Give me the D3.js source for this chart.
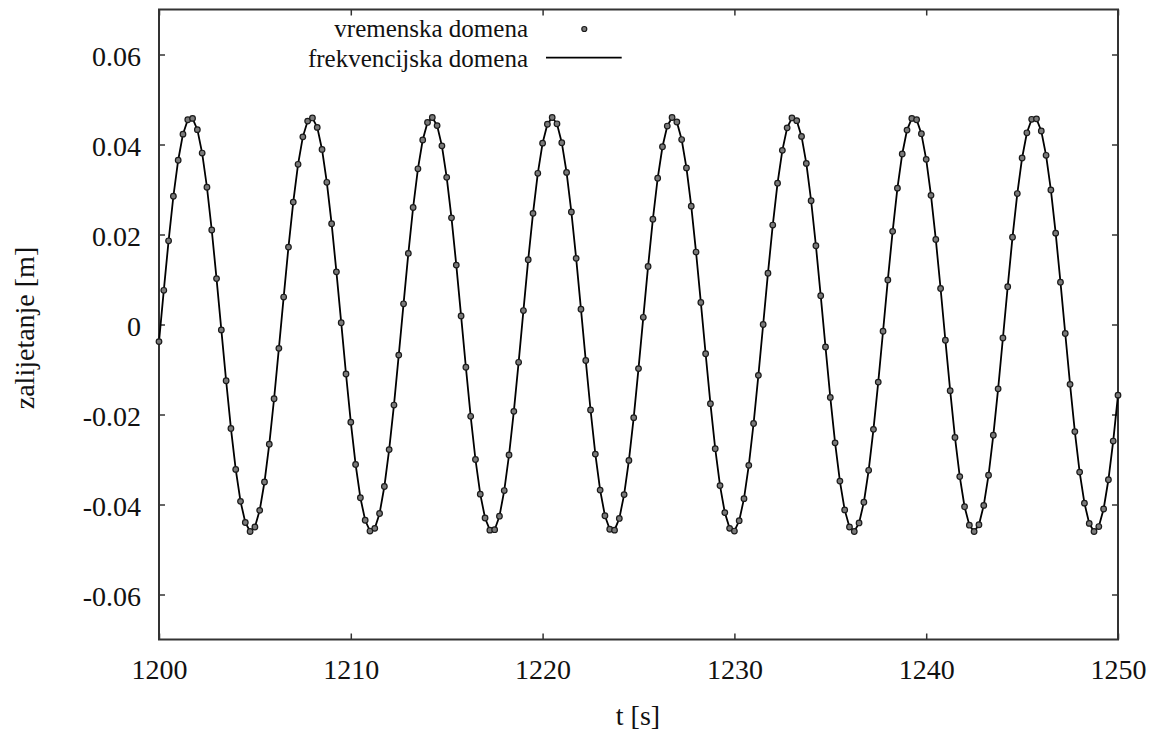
<!DOCTYPE html>
<html>
<head>
<meta charset="utf-8">
<script src="https://cdn.jsdelivr.net/npm/d3@7"></script>
</head>
<body style="margin:0">
<svg id="chart" width="1161" height="731"></svg>
<script>
// ---- data ----
const tStart = 1200;
const tStep = 0.25;
const timeDomain = [
  -0.0038, 0.0076, 0.0186, 0.0285, 0.0365, 0.0423, 0.0455, 0.0458, 0.0433, 0.0381, 0.0305, 0.0210, 0.0102, -0.0012, -0.0125, -0.0231, -0.0322, -0.0393, -0.0440, -0.0460, -0.0450, -0.0413, -0.0350, -0.0266, -0.0165,
  -0.0053, 0.0061, 0.0172, 0.0272, 0.0356, 0.0417, 0.0452, 0.0459, 0.0438, 0.0389, 0.0316, 0.0224, 0.0117, 0.0004, -0.0110, -0.0217, -0.0311, -0.0385, -0.0435, -0.0459, -0.0453, -0.0420, -0.0360, -0.0278, -0.0179,
  -0.0068, 0.0046, 0.0158, 0.0260, 0.0346, 0.0410, 0.0449, 0.0460, 0.0442, 0.0397, 0.0327, 0.0237, 0.0132, 0.0019, -0.0095, -0.0204, -0.0300, -0.0377, -0.0430, -0.0457, -0.0456, -0.0426, -0.0369, -0.0290, -0.0193,
  -0.0084, 0.0031, 0.0144, 0.0247, 0.0336, 0.0403, 0.0445, 0.0460, 0.0446, 0.0404, 0.0338, 0.0250, 0.0147, 0.0034, -0.0080, -0.0190, -0.0288, -0.0368, -0.0425, -0.0455, -0.0457, -0.0431, -0.0378, -0.0302, -0.0207,
  -0.0098, 0.0016, 0.0129, 0.0234, 0.0325, 0.0395, 0.0441, 0.0460, 0.0450, 0.0411, 0.0348, 0.0263, 0.0161, 0.0049, -0.0065, -0.0176, -0.0276, -0.0358, -0.0418, -0.0453, -0.0459, -0.0436, -0.0387, -0.0313, -0.0220,
  -0.0113, 0.0000, 0.0114, 0.0221, 0.0314, 0.0387, 0.0437, 0.0459, 0.0453, 0.0418, 0.0358, 0.0275, 0.0175, 0.0064, -0.0050, -0.0162, -0.0263, -0.0348, -0.0412, -0.0450, -0.0460, -0.0441, -0.0395, -0.0324, -0.0233,
  -0.0128, -0.0015, 0.0099, 0.0207, 0.0303, 0.0379, 0.0432, 0.0458, 0.0455, 0.0424, 0.0367, 0.0287, 0.0189, 0.0080, -0.0035, -0.0147, -0.0251, -0.0338, -0.0405, -0.0446, -0.0460, -0.0445, -0.0402, -0.0335, -0.0246,
  -0.0143, -0.0030, 0.0084, 0.0194, 0.0291, 0.0370, 0.0426, 0.0456, 0.0457, 0.0430, 0.0376, 0.0299, 0.0203, 0.0094, -0.0020, -0.0133, -0.0238, -0.0328, -0.0397, -0.0442, -0.0460, -0.0449, -0.0410, -0.0345, -0.0259,
  -0.0157
];
// the frequency-domain solution coincides with the time-domain samples
const frequencyDomain = timeDomain.slice();

const xTicks = [1200, 1210, 1220, 1230, 1240, 1250];
const yTicks = [-0.06, -0.04, -0.02, 0, 0.02, 0.04, 0.06];
const yTickLabels = ["-0.06", "-0.04", "-0.02", "0", "0.02", "0.04", "0.06"];
const seriesNames = ["vremenska domena", "frekvencijska domena"];
const xTitle = "t [s]";
const yTitle = "zalijetanje [m]";

// ---- layout ----
const FONT = '"Liberation Serif"';
const TEXT = "#111";
const svg = d3.select("#chart");
const L = 159, R = 1118, T = 9.5, B = 639.5;
const x = d3.scaleLinear().domain([1200, 1250]).range([L, R]);
const y = d3.scaleLinear().domain([-0.07, 0.07]).range([B, T]);
const frameColor = "#333";

const pts = timeDomain.map((v, i) => ({ t: tStart + i * tStep, v }));
const linePts = frequencyDomain.map((v, i) => ({ t: tStart + i * tStep, v }));

// axes (ticks pointing inward, mirrored)
const fontSize = 28;
const gx = svg.append("g").attr("transform", `translate(0,${B})`)
  .call(d3.axisBottom(x).tickValues(xTicks).tickFormat(d3.format("d"))
    .tickSizeInner(-6).tickSizeOuter(0).tickPadding(20));
const gxt = svg.append("g").attr("transform", `translate(0,${T})`)
  .call(d3.axisTop(x).tickValues(xTicks).tickFormat("")
    .tickSizeInner(-6).tickSizeOuter(0));
const gy = svg.append("g").attr("transform", `translate(${L},0)`)
  .call(d3.axisLeft(y).tickValues(yTicks).tickFormat((d, i) => yTickLabels[i])
    .tickSizeInner(-6).tickSizeOuter(0).tickPadding(18));
const gyr = svg.append("g").attr("transform", `translate(${R},0)`)
  .call(d3.axisRight(y).tickValues(yTicks).tickFormat("")
    .tickSizeInner(-6).tickSizeOuter(0));

[gx, gxt, gy, gyr].forEach(g => {
  g.attr("font-family", FONT).attr("font-size", fontSize);
  g.select(".domain").remove();
  g.selectAll(".tick line").attr("stroke", frameColor).attr("stroke-width", 1.5);
  g.selectAll(".tick text").attr("font-size", fontSize)
    .attr("font-family", FONT).attr("fill", TEXT);
});
gy.selectAll(".tick text").attr("dy", "0.4em");

// frame
svg.append("rect").attr("x", L).attr("y", T).attr("width", R - L).attr("height", B - T)
  .attr("fill", "none").attr("stroke", frameColor).attr("stroke-width", 2);

// line series
svg.append("path").datum(linePts)
  .attr("fill", "none").attr("stroke", "#000").attr("stroke-width", 1.8)
  .attr("d", d3.line().x(d => x(d.t)).y(d => y(d.v)));

// point series
svg.append("g").selectAll("circle").data(pts).join("circle")
  .attr("cx", d => x(d.t)).attr("cy", d => y(d.v)).attr("r", 2.8)
  .attr("fill", "#7a7a7a").attr("stroke", "#1a1a1a").attr("stroke-width", 1.2);

// legend
const legX = 528;
const leg = svg.append("g");
leg.append("text").attr("x", legX).attr("y", 37.3).attr("text-anchor", "end")
  .attr("font-family", FONT).attr("fill", TEXT).attr("font-size", 25).text(seriesNames[0]);
leg.append("text").attr("x", legX).attr("y", 66.7).attr("text-anchor", "end")
  .attr("font-family", FONT).attr("fill", TEXT).attr("font-size", 25).text(seriesNames[1]);
leg.append("circle").attr("cx", 584.3).attr("cy", 29).attr("r", 2.5)
  .attr("fill", "#7a7a7a").attr("stroke", "#1a1a1a").attr("stroke-width", 1.2);
leg.append("line").attr("x1", 546).attr("x2", 621.7).attr("y1", 57.7).attr("y2", 57.7)
  .attr("stroke", "#000").attr("stroke-width", 1.8);

// axis titles
svg.append("text").attr("x", 638).attr("y", 725).attr("text-anchor", "middle")
  .attr("font-family", FONT).attr("fill", TEXT).attr("font-size", 28).text(xTitle);
svg.append("text").attr("transform", "translate(34,328) rotate(-90)")
  .attr("text-anchor", "middle").attr("font-family", FONT).attr("fill", TEXT)
  .attr("font-size", 28).text(yTitle);
</script>
</body>
</html>
